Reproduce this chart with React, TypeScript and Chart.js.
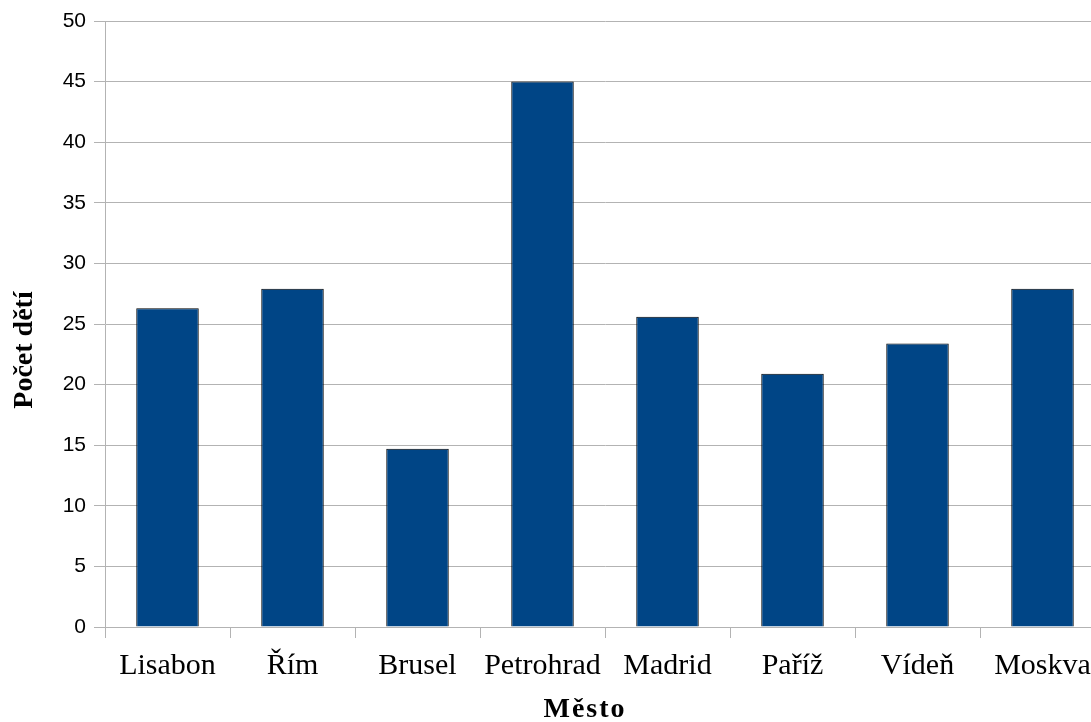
import React, { useEffect, useRef } from "react";
import { Chart, registerables } from "chart.js";

Chart.register(...registerables);

const categories = ["Lisabon", "Řím", "Brusel", "Petrohrad", "Madrid", "Paříž", "Vídeň", "Moskva"];
const childCounts = [26.3, 27.9, 14.7, 45.0, 25.6, 20.9, 23.4, 27.9];
const yTitle = "Počet dětí";
const xTitle = "Město";

const titlePlugin = {
  id: "customTitles",
  afterDraw(chart: any) {
    const ctx = chart.ctx as CanvasRenderingContext2D;
    const area = chart.chartArea;
    ctx.save();
    ctx.fillStyle = "#000";
    ctx.font = "bold 28px 'Liberation Serif'";
    (ctx as any).letterSpacing = "2px";
    ctx.textAlign = "center";
    ctx.textBaseline = "alphabetic";
    ctx.fillText(xTitle, area.left + 480, area.bottom + 90);
    (ctx as any).letterSpacing = "0px";
    ctx.translate(32, (area.top + area.bottom) / 2 + 26);
    ctx.rotate(-Math.PI / 2);
    ctx.fillText(yTitle, 0, 0);
    ctx.restore();
  },
};

export default function App() {
  const ref = useRef<HTMLCanvasElement | null>(null);
  useEffect(() => {
    if (!ref.current) return;
    const chart = new Chart(ref.current, {
      type: "bar",
      data: {
        labels: categories,
        datasets: [
          {
            data: childCounts,
            backgroundColor: "#004586",
            borderColor: "#000000",
            borderWidth: 1,
            barPercentage: 0.5,
            categoryPercentage: 1,
          },
        ],
      },
      options: {
        animation: false,
        responsive: false,
        devicePixelRatio: 1,
        layout: { padding: { left: 0, top: 21, right: 15, bottom: 0 } },
        plugins: { legend: { display: false }, tooltip: { enabled: false } },
        scales: {
          x: {
            grid: {
              display: true,
              drawOnChartArea: false,
              drawTicks: true,
              tickLength: 11,
              color: "#b3b3b3",
              lineWidth: 1,
            },
            border: { display: true, color: "#b3b3b3", width: 1 },
            ticks: {
              color: "#000",
              padding: 10,
              maxRotation: 0,
              autoSkip: false,
              font: { family: "'Liberation Serif'", size: 30 },
            },
            afterFit(scale: any) {
              scale.height = 95;
            },
          },
          y: {
            min: 0,
            max: 50,
            ticks: {
              stepSize: 5,
              color: "#000",
              padding: 8,
              font: { family: "'Liberation Sans'", size: 21 },
            },
            grid: {
              color: "#b3b3b3",
              lineWidth: 1,
              tickLength: 11,
            },
            border: { display: true, color: "#b3b3b3", width: 1 },
            afterFit(scale: any) {
              scale.width = 105;
            },
          },
        },
      },
      plugins: [titlePlugin],
    });
    return () => chart.destroy();
  }, []);
  return (
    <div
      style={{
        position: "fixed",
        left: 0,
        top: 0,
        width: 1091,
        height: 722,
        overflow: "hidden",
        background: "#fff",
      }}
    >
      <canvas ref={ref} width={1120} height={722} style={{ display: "block" }} />
    </div>
  );
}
